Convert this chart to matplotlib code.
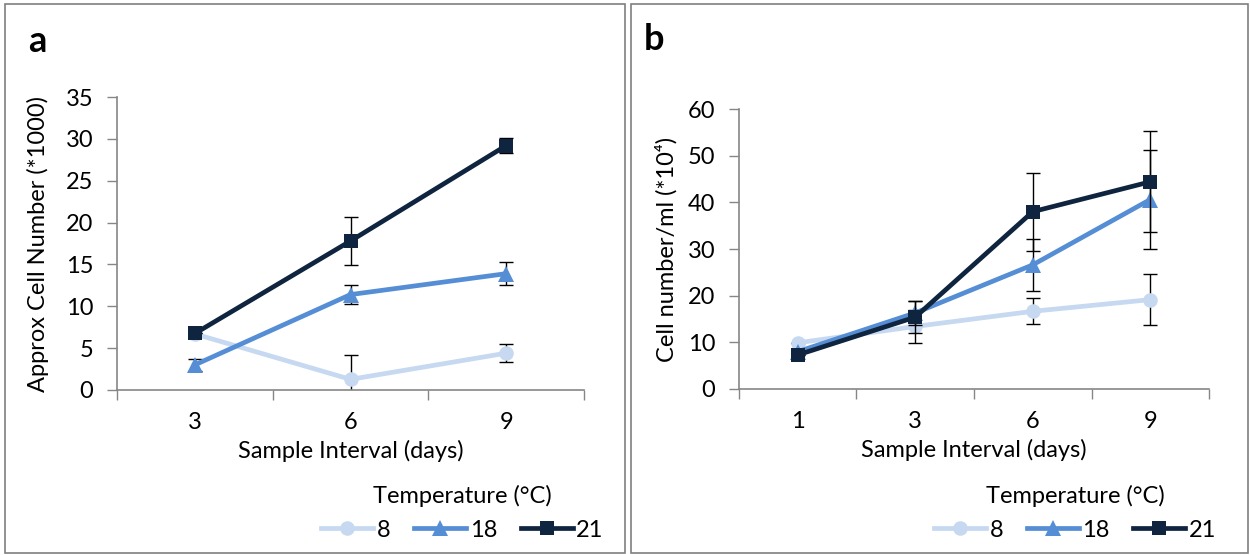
import numpy as np
import matplotlib
matplotlib.use("Agg")
import matplotlib.pyplot as plt
from matplotlib.patches import Rectangle

plt.rcParams['font.family'] = ['Lato', 'DejaVu Sans']
FS = 17

# panel a data
days_a = ["3", "6", "9"]
a_8 = [6.7, 1.27, 4.4]
a_8_err = [0.0, 2.9, 1.1]
a_18 = [3.0, 11.4, 13.9]
a_18_err = [0.7, 1.1, 1.4]
a_21 = [6.75, 17.8, 29.2]
a_21_err = [0.0, 2.85, 0.85]

# panel b data
days_b = ["1", "3", "6", "9"]
b_8 = [9.9, 13.4, 16.65, 19.15]
b_8_err = [0.0, 3.45, 2.75, 5.45]
b_18 = [8.0, 16.3, 26.6, 40.6]
b_18_err = [0.0, 2.5, 5.5, 10.55]
b_21 = [7.3, 15.4, 38.0, 44.4]
b_21_err = [0.0, 3.4, 8.35, 10.8]

temps = ["8", "18", "21"]
colors = ["#C6D9F1", "#558ED5", "#0F243E"]
markers = ["o", "^", "s"]
msizes = [10.5, 11.5, 10.5]

fig = plt.figure(figsize=(12.5, 5.55), dpi=100)
ax_a = fig.add_axes([0.0936, 0.2973, 0.3736, 0.5279])
ax_b = fig.add_axes([0.5912, 0.2991, 0.3760, 0.5045])


def draw(ax, cats, series, errs, ymax, ystep, ylabel, ypad):
    x = np.arange(len(cats))
    handles = []
    for i, (vals, err) in enumerate(zip(series, errs)):
        ax.errorbar(x, vals, yerr=err, fmt="none", ecolor="black", elinewidth=1,
                    capsize=5, capthick=1, zorder=2 + i)
        h, = ax.plot(x, vals, color=colors[i], lw=3.4, marker=markers[i],
                     markersize=msizes[i], markeredgewidth=0, zorder=2.5 + i,
                     label=temps[i])
        handles.append(h)
    ax.set_xlim(-0.5, len(cats) - 0.5)
    ax.set_ylim(0, ymax)
    ax.set_yticks(np.arange(0, ymax + 0.1, ystep))
    ax.set_xticks(np.arange(len(cats) + 1) - 0.5)
    ax.set_xticklabels([])
    ax.set_xticks(x, minor=True)
    ax.set_xticklabels(cats, minor=True)
    ax.tick_params(axis="x", which="minor", length=0, pad=16, labelsize=FS)
    ax.tick_params(axis="x", which="major", length=7, color="#868686", width=1)
    ax.tick_params(axis="y", length=7, color="#868686", width=1, pad=10, labelsize=FS)
    for s in ["top", "right"]:
        ax.spines[s].set_visible(False)
    for s in ["left", "bottom"]:
        ax.spines[s].set_color("#868686")
        ax.spines[s].set_linewidth(1.2)
    ax.set_xlabel("Sample Interval (days)", fontsize=FS, labelpad=5)
    ax.set_ylabel(ylabel, fontsize=FS, labelpad=ypad)
    return handles


h_a = draw(ax_a, days_a, [a_8, a_18, a_21], [a_8_err, a_18_err, a_21_err], 35, 5,
           "Approx Cell Number (*1000)", 12)
h_b = draw(ax_b, days_b, [b_8, b_18, b_21], [b_8_err, b_18_err, b_21_err], 60, 10,
           "Cell number/ml (*10⁴)", 7)

for handles, cx in [(h_a, 0.37), (h_b, 0.86)]:
    leg = fig.legend(handles=handles, loc="lower center", bbox_to_anchor=(cx, -0.004),
                     ncol=3, frameon=False, fontsize=FS, title="Temperature (°C)",
                     title_fontsize=FS, handlelength=2.2, handletextpad=0.15,
                     columnspacing=1.0, borderpad=0.2, labelspacing=0.55)

fig.text(0.0296, 0.926, "a", fontsize=26, fontweight="bold", ha="center", va="center")
fig.text(0.523, 0.929, "b", fontsize=26, fontweight="bold", ha="center", va="center")

for x0, x1 in [(0.004, 0.5), (0.5048, 0.9984)]:
    fig.patches.append(Rectangle((x0, 0.004), x1 - x0, 0.988, transform=fig.transFigure,
                                 fill=False, edgecolor="#7F7F7F", lw=1.2))

fig.savefig("out.png", dpi=100)
